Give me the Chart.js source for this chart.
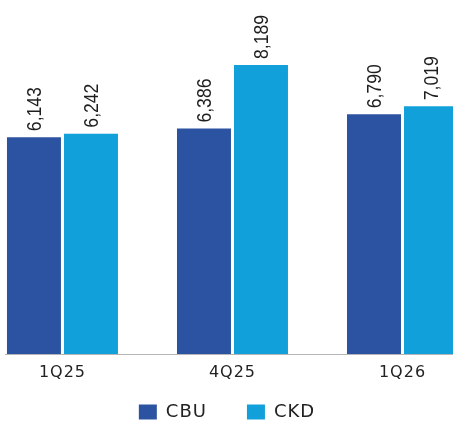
<!DOCTYPE html>
<html>
<head>
<meta charset="utf-8">
<script src="https://cdn.jsdelivr.net/npm/chart.js@4/dist/chart.umd.min.js"></script>
<style>
  html, body { margin: 0; padding: 0; background: #fff; overflow: hidden; }
  #wrap { position: relative; width: 453px; height: 425px; }
</style>
</head>
<body>
<div id="wrap"><canvas id="c" width="453" height="425"></canvas></div>
<script>
// Quarterly volumes by assembly type
const categories = ['1Q25', '4Q25', '1Q26'];
const cbuValues = [6143, 6386, 6790];
const ckdValues = [6242, 8189, 7019];
const seriesNames = ['CBU', 'CKD'];

const COLORS = { cbu: '#2c53a1', ckd: '#11a0da' };
const LABEL_FONT = '20px "Liberation Sans", Arial, sans-serif';
const LABEL_SQUEEZE = 0.88;
const AXIS_FONT_FAMILY = '"DejaVu Sans", sans-serif';
const LEGEND_GAP = 40;     // horizontal gap between legend items
const LEGEND_ROW_PAD = 4;  // vertical padding around the legend row
const LEGEND_NUDGE_X = -5; // legend row sits a little left of the plot centre

const toPoints = vals => vals.map((v, i) => ({ x: i, y: v }));

// Slightly tracked-out lettering for axis and legend text
const letterTracking = {
  id: 'letterTracking',
  beforeDraw(chart) { chart.ctx.save(); chart.ctx.letterSpacing = '1px'; },
  afterDraw(chart) { chart.ctx.restore(); }
};

// Vertical value labels above each bar
const barValueLabels = {
  id: 'barValueLabels',
  afterDatasetsDraw(chart) {
    const ctx = chart.ctx;
    chart.data.datasets.forEach((ds, di) => {
      const meta = chart.getDatasetMeta(di);
      meta.data.forEach((bar, i) => {
        const v = ds.data[i].y;
        ctx.save();
        ctx.letterSpacing = '0px';
        ctx.translate(bar.x + 7, bar.y - 6);
        ctx.rotate(-Math.PI / 2);
        ctx.scale(LABEL_SQUEEZE, 1);
        ctx.font = LABEL_FONT;
        ctx.fillStyle = '#1e1e1e';
        ctx.textAlign = 'left';
        ctx.textBaseline = 'alphabetic';
        ctx.fillText(v.toLocaleString('en-US'), 0, 0);
        ctx.restore();
      });
    });
  }
};

// Legend: wide horizontal spacing, but a short row height
const compactLegend = {
  id: 'compactLegend',
  beforeInit(chart) {
    const legend = chart.legend;
    if (!legend || legend._compact) return;
    const fit = legend.fit;
    legend.fit = function () {
      fit.call(this);
      this.height = LEGEND_ROW_PAD * 2 + 18;
    };
    legend._compact = true;
  },
  afterLayout(chart) {
    const legend = chart.legend;
    if (!legend) return;
    legend.top -= LEGEND_GAP - LEGEND_ROW_PAD;
    legend.left += LEGEND_NUDGE_X;
    legend.right += LEGEND_NUDGE_X;
  }
};

new Chart(document.getElementById('c'), {
  type: 'bar',
  data: {
    datasets: [
      { label: seriesNames[0], data: toPoints(cbuValues), backgroundColor: COLORS.cbu },
      { label: seriesNames[1], data: toPoints(ckdValues), backgroundColor: COLORS.ckd }
    ]
  },
  options: {
    responsive: false,
    animation: false,
    layout: { padding: { top: 1, left: 5, right: 0, bottom: 0 } },
    datasets: {
      bar: { categoryPercentage: 0.6706, barPercentage: 0.947 }
    },
    scales: {
      x: {
        type: 'linear',
        offset: false,
        min: -0.338,
        max: 2.297,
        grid: { display: false },
        border: { display: true, color: '#b5b5b5', width: 1 },
        afterBuildTicks: s => { s.ticks = categories.map((_, i) => ({ value: i })); },
        afterFit: s => { s.height = 45; },
        ticks: {
          autoSkip: false,
          maxRotation: 0,
          padding: 1,
          color: '#222',
          font: { family: AXIS_FONT_FAMILY, size: 16 },
          callback: v => categories[v]
        }
      },
      y: {
        display: false,
        min: 0,
        max: 10000
      }
    },
    plugins: {
      legend: {
        position: 'bottom',
        labels: {
          boxWidth: 18,
          boxHeight: 15,
          padding: LEGEND_GAP,
          color: '#222',
          font: { family: AXIS_FONT_FAMILY, size: 18 }
        }
      },
      tooltip: { enabled: false }
    }
  },
  plugins: [letterTracking, barValueLabels, compactLegend]
});
</script>
</body>
</html>
